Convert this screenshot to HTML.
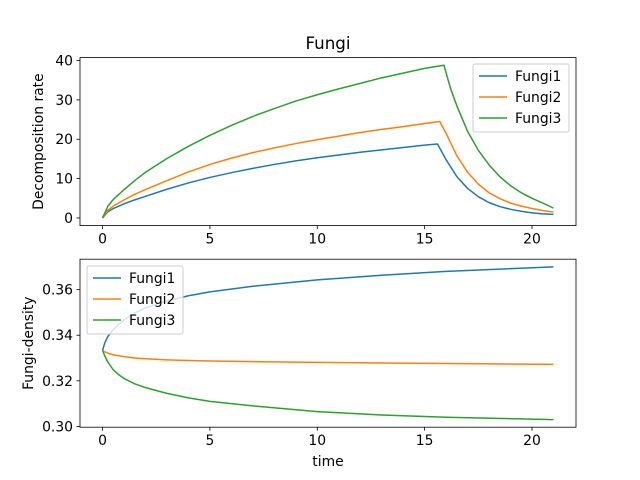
<!DOCTYPE html>
<html><head><meta charset="utf-8"><style>body{margin:0;background:#fff}svg{display:block;font-family:"DejaVu Sans","Liberation Sans",sans-serif}</style></head>
<body>
<svg id="fig" width="640" height="480" viewBox="0 0 640 480"></svg>
<script>
const seriesNames = ["Fungi1","Fungi2","Fungi3"];
const colors = ["#1f77b4","#ff7f0e","#2ca02c"];
const topT1 = [0,0.25,0.5,1,1.5,2,3,4,5,6,7,8,9,10,11,12,13,14,15,15.6,16,16.5,17,17.5,18,18.5,19,19.5,20,20.5,21];
const topV1 = [0,1.6,2.4,3.6,4.6,5.5,7.3,8.9,10.3,11.5,12.6,13.6,14.5,15.3,16,16.7,17.3,17.9,18.5,18.8,14.8,10.5,7.5,5.4,3.9,2.9,2.2,1.7,1.3,1.05,0.9];
const topT2 = [0,0.25,0.5,1,1.5,2,3,4,5,6,7,8,9,10,11,12,13,14,15,15.7,16,16.5,17,17.5,18,18.5,19,19.5,20,20.5,21];
const topV2 = [0,2,3,4.6,6,7.2,9.5,11.7,13.6,15.2,16.6,17.8,18.9,19.9,20.8,21.7,22.5,23.2,24,24.5,21.5,15.8,11.6,8.6,6.4,4.9,3.8,3,2.4,1.9,1.5];
const topT3 = [0,0.25,0.5,1,1.5,2,3,4,5,6,7,8,9,10,11,12,13,14,15,15.9,16.2,16.5,17,17.5,18,18.5,19,19.5,20,20.5,21];
const topV3 = [0,3,4.7,7.2,9.5,11.6,15.1,18.2,21,23.5,25.8,27.8,29.7,31.3,32.8,34.2,35.6,36.8,38,38.8,33,28.5,22,17.2,13.5,10.5,8.2,6.4,5,3.8,2.5];
const botT = [0,0.1,0.25,0.5,0.75,1,1.5,2,3,4,5,7,10,13,16,21];
const botV1 = [0.3333,0.3365,0.3395,0.3425,0.3448,0.3468,0.3497,0.352,0.355,0.3573,0.359,0.3615,0.3643,0.3663,0.368,0.370];
const botV2 = [0.3333,0.3327,0.3321,0.3314,0.331,0.3306,0.33,0.3297,0.3292,0.3289,0.3287,0.3284,0.3281,0.3278,0.3276,0.3272];
const botV3 = [0.3333,0.331,0.3282,0.3248,0.3227,0.321,0.3187,0.317,0.3145,0.3125,0.311,0.309,0.3065,0.305,0.304,0.303];
const xTicks = [0,5,10,15,20];
const topYTicks = [0,10,20,30,40];
const botYTicks = [0.30,0.32,0.34,0.36];

const NS="http://www.w3.org/2000/svg", svg=document.getElementById('fig');
function mk(t,a,p){const e=document.createElementNS(NS,t);for(const k in a)e.setAttribute(k,a[k]);(p||svg).appendChild(e);return e;}
const L=80,R=576,xmin=-1.05,xmax=22.05,FS=13.9;
const X=v=>L+(v-xmin)/(xmax-xmin)*(R-L);
function axes(top,bot,ymin,ymax,yticks,fmt,series,name,ylabel){
  const Y=v=>bot-(v-ymin)/(ymax-ymin)*(bot-top);
  const g=mk('g',{});
  
  
  series.forEach((s,i)=>{
    const p=mk('polyline',{points:s[0].map((t,j)=>X(t)+','+Y(s[1][j])).join(' '),fill:'none',stroke:colors[i],'stroke-width':1.5,'stroke-linejoin':'round'},g);
    
    
  });
  const f=mk('rect',{x:L,y:top,width:R-L,height:bot-top,fill:'none',stroke:'#000','stroke-width':0.8},g);
  
  
  xTicks.forEach(t=>{mk('line',{x1:X(t),x2:X(t),y1:bot,y2:bot+3.5,stroke:'#000','stroke-width':0.8},g);
    const tx=mk('text',{x:X(t),y:bot+18,'font-size':FS,'text-anchor':'middle'},g);tx.textContent=t;
    });
  yticks.forEach(t=>{mk('line',{x1:L-3.5,x2:L,y1:Y(t),y2:Y(t),stroke:'#000','stroke-width':0.8},g);
    const tx=mk('text',{x:L-7,y:Y(t)+5,'font-size':FS,'text-anchor':'end'},g);tx.textContent=fmt(t);
    });
  const yl=mk('text',{x:0,y:0,'font-size':FS,'text-anchor':'middle',transform:`translate(${ylabel[1]},${(top+bot)/2}) rotate(-90)`},g);
  yl.textContent=ylabel[0];
  
  return g;
}
function legend(x,y,name){
  const g=mk('g',{});
  
  
  mk('rect',{x:x,y:y,width:96,height:68,rx:2,fill:'#fff','fill-opacity':0.8,stroke:'#ccc'},g);
  seriesNames.forEach((n,i)=>{const yy=y+12+i*21;
    mk('line',{x1:x+6,x2:x+34,y1:yy,y2:yy,stroke:colors[i],'stroke-width':1.5},g);
    const t=mk('text',{x:x+42,y:yy+5,'font-size':FS},g);t.textContent=n;
    });
}
axes(57.6,225.6,-1.94,40.74,topYTicks,t=>t,[[topT1,topV1],[topT2,topV2],[topT3,topV3]],'top-axes',['Decomposition rate',43]);
axes(259.2,427.2,0.29965,0.37335,botYTicks,t=>t.toFixed(2),[[botT,botV1],[botT,botV2],[botT,botV3]],'bottom-axes',['Fungi-density',33]);
legend(473,64,'top-legend');
legend(87,266,'bottom-legend');
const ti=mk('text',{x:328,y:49,'font-size':16.7,'text-anchor':'middle'});ti.textContent='Fungi';

const xl=mk('text',{x:328,y:466,'font-size':FS,'text-anchor':'middle'});xl.textContent='time';

</script>
</body></html>
